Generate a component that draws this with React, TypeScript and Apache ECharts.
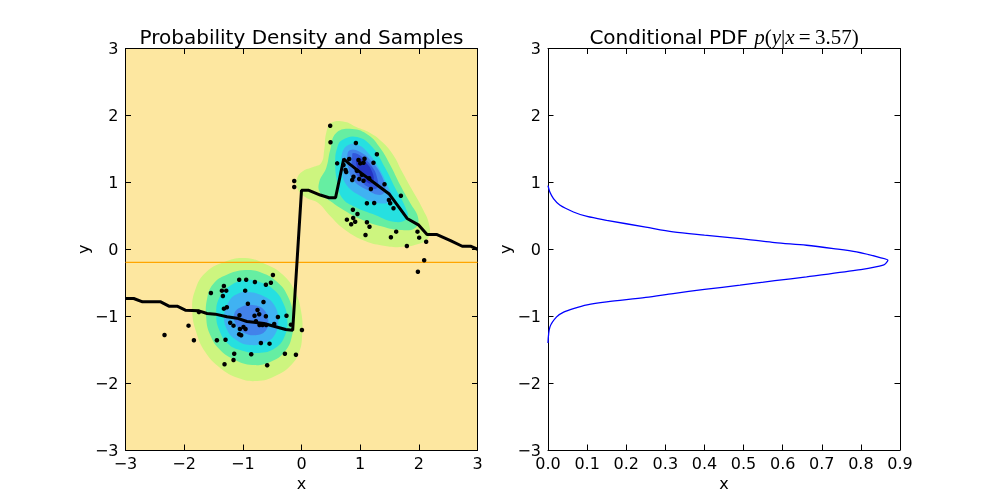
import { useEffect, useRef } from "react";
import * as echarts from "echarts";

// contour outlines, [x, y] in data units, outer level first
const leftLevel1 = [
  [-0.96, -0.131], [-0.619, -0.22], [-0.312, -0.385], [-0.107, -0.639], [-0.005, -0.938],
  [0.012, -1.252], [-0.039, -1.536], [-0.193, -1.745], [-0.448, -1.894], [-0.755, -1.969],
  [-1.079, -1.924], [-1.386, -1.774], [-1.641, -1.536], [-1.795, -1.237], [-1.863, -0.908],
  [-1.812, -0.609], [-1.641, -0.355], [-1.318, -0.191],
];
const leftLevel2 = [
  [-0.96, -0.31], [-0.67, -0.355], [-0.414, -0.49], [-0.244, -0.684], [-0.141, -0.983],
  [-0.159, -1.282], [-0.278, -1.521], [-0.533, -1.685], [-0.84, -1.73], [-1.13, -1.655],
  [-1.386, -1.506], [-1.556, -1.281], [-1.624, -1.027], [-1.607, -0.729], [-1.505, -0.519],
  [-1.283, -0.385],
];
const leftLevel3 = [
  [-0.96, -0.459], [-0.67, -0.504], [-0.448, -0.624], [-0.312, -0.803], [-0.244, -1.027],
  [-0.278, -1.281], [-0.448, -1.476], [-0.738, -1.55], [-1.045, -1.506], [-1.249, -1.416],
  [-1.403, -1.207], [-1.454, -0.953], [-1.403, -0.729], [-1.249, -0.564],
];
const leftLevel4 = [
  [-0.908, -0.639], [-0.653, -0.699], [-0.465, -0.833], [-0.397, -1.057], [-0.448, -1.266],
  [-0.602, -1.386], [-0.874, -1.431], [-1.113, -1.356], [-1.267, -1.207], [-1.318, -0.983],
  [-1.232, -0.773], [-1.096, -0.669],
];
const leftLevel5 = [
  [-0.84, -0.833], [-0.653, -0.893], [-0.568, -1.057], [-0.602, -1.207], [-0.755, -1.281],
  [-0.977, -1.252], [-1.113, -1.132], [-1.147, -0.968], [-1.028, -0.863],
];

const rightLevel1 = [
  [0.506, 1.887], [0.745, 1.901], [0.932, 1.826], [1.171, 1.737], [1.376, 1.602],
  [1.563, 1.408], [1.717, 1.154], [1.887, 0.885], [2.058, 0.616], [2.177, 0.362],
  [2.16, 0.168], [1.989, 0.078], [1.682, 0.034], [1.427, 0.049], [1.086, 0.123],
  [0.745, 0.288], [0.489, 0.497], [0.285, 0.691], [0.063, 0.781], [-0.073, 0.916],
  [-0.073, 1.065], [0.029, 1.17], [0.199, 1.229], [0.336, 1.289], [0.387, 1.483],
  [0.421, 1.737],
];
const rightLevel2 = [
  [0.591, 1.737], [0.864, 1.797], [1.137, 1.707], [1.341, 1.513], [1.512, 1.259],
  [1.682, 0.96], [1.853, 0.691], [1.989, 0.467], [1.938, 0.318], [1.682, 0.288],
  [1.341, 0.347], [1.001, 0.452], [0.745, 0.572], [0.489, 0.721], [0.319, 0.841],
  [0.302, 1.005], [0.421, 1.214], [0.489, 1.483],
];
const rightLevel3 = [
  [0.694, 1.632], [0.949, 1.677], [1.205, 1.528], [1.427, 1.214], [1.597, 0.915],
  [1.768, 0.631], [1.802, 0.467], [1.597, 0.407], [1.256, 0.512], [0.915, 0.631],
  [0.694, 0.766], [0.608, 1.005], [0.575, 1.304], [0.608, 1.513],
];
const rightLevel4 = [
  [0.796, 1.558], [0.966, 1.558], [1.137, 1.438], [1.307, 1.229], [1.478, 0.93],
  [1.546, 0.781], [1.512, 0.706], [1.307, 0.691], [1.035, 0.781], [0.745, 0.99],
  [0.694, 1.259], [0.694, 1.438],
];
const rightLevel5 = [
  [0.83, 1.483], [1.001, 1.453], [1.205, 1.304], [1.375, 1.08], [1.427, 0.885],
  [1.341, 0.811], [1.12, 0.885], [0.881, 1.035], [0.796, 1.229], [0.779, 1.379],
];
const rightLevel6 = [
  [0.881, 1.438], [1.035, 1.379], [1.205, 1.229], [1.29, 1.065], [1.29, 0.915],
  [1.137, 0.93], [0.966, 1.08], [0.864, 1.259], [0.864, 1.379],
];
const rightLevel7 = [
  [0.949, 1.364], [1.086, 1.304], [1.205, 1.155], [1.222, 1.005], [1.137, 0.99],
  [1.035, 1.11], [0.949, 1.229],
];

const samples = [
  [-0.487, -0.385], [-1.062, -0.455], [-0.943, -0.455], [-0.794, -0.489], [-0.607, -0.53],
  [-0.522, -0.5], [-1.323, -0.549], [-1.357, -0.619], [-1.283, -0.619], [-1.544, -0.654],
  [-0.96, -0.619], [-1.34, -0.699], [-0.648, -0.788], [-0.914, -0.814], [-1.272, -0.867],
  [-1.323, -0.888], [-0.75, -0.908], [-1.057, -0.987], [-0.801, -0.993], [-0.721, -0.972],
  [-0.607, -1.002], [-0.402, -1.012], [-0.256, -0.993], [-1.749, -0.938], [-1.215, -1.098],
  [-1.159, -1.142], [-1.05, -1.192], [-0.989, -1.162], [-0.954, -1.192], [-0.777, -1.077],
  [-0.716, -1.132], [-0.665, -1.132], [-0.602, -1.132], [-0.465, -1.117], [-0.181, -1.127],
  [0.007, -1.207], [-1.062, -1.271], [-1.028, -1.286], [-1.926, -1.142], [-2.335, -1.281],
  [-1.834, -1.361], [-1.442, -1.361], [-1.295, -1.352], [-0.692, -1.401], [-0.545, -1.411],
  [-1.147, -1.561], [-0.857, -1.57], [-1.159, -1.655], [-1.312, -1.719], [-0.585, -1.734],
  [-0.283, -1.561], [-0.095, -1.576],
  [0.489, 1.846], [0.494, 1.598], [0.927, 1.588], [1.285, 1.419], [0.608, 1.284],
  [0.716, 1.259], [0.813, 1.349], [0.972, 1.334], [1.001, 1.284], [1.057, 1.293],
  [1.074, 1.353], [1.227, 1.293], [0.75, 1.184], [0.762, 1.154], [0.944, 1.174],
  [0.886, 1.084], [0.864, 1.035], [0.983, 1.05], [1.057, 1.024], [1.154, 1.06],
  [1.029, 1.111], [1.415, 0.971], [1.183, 0.9], [1.115, 0.687], [1.239, 0.691],
  [1.49, 0.736], [1.512, 0.687], [1.568, 0.613], [1.694, 0.8], [0.876, 0.591],
  [0.954, 0.527], [0.774, 0.442], [0.881, 0.467], [0.915, 0.412], [0.847, 0.373],
  [1.115, 0.403], [1.159, 0.337], [1.091, 0.213], [1.524, 0.179], [1.614, 0.263],
  [1.796, 0.049], [1.977, 0.263], [2.006, 0.173], [2.125, 0.113], [2.091, -0.165],
  [1.984, -0.336], [-0.124, 1.02], [-0.124, 0.93],
];

const meanLine = [
  [-3, -0.736], [-2.86, -0.736], [-2.71, -0.786], [-2.4, -0.786], [-2.26, -0.85],
  [-2.12, -0.85], [-1.98, -0.91], [-1.75, -0.92], [-1.61, -0.96], [-1.47, -0.97],
  [-1.27, -1.01], [-1.1, -1.03], [-0.93, -1.08], [-0.64, -1.11], [-0.47, -1.15],
  [-0.27, -1.2], [-0.15, -1.21], [0.0, 0.88], [0.125, 0.88], [0.32, 0.81],
  [0.47, 0.77], [0.58, 0.77], [0.72, 1.35], [0.81, 1.28], [1.03, 1.13],
  [1.26, 0.98], [1.49, 0.83], [1.66, 0.63], [1.8, 0.46], [2.0, 0.36],
  [2.14, 0.22], [2.31, 0.22], [2.54, 0.13], [2.74, 0.045], [2.88, 0.045], [3.0, 0.0],
];

const sliceY = -0.195;

// conditional pdf, [density, y]
const condPdf = [
  [0.0, 0.95], [0.005, 0.85], [0.014, 0.757], [0.03, 0.66], [0.065, 0.557],
  [0.1, 0.49], [0.15, 0.433], [0.25, 0.33], [0.32, 0.259], [0.4, 0.21],
  [0.491, 0.159], [0.58, 0.1], [0.661, 0.06], [0.73, 0.01], [0.789, -0.04],
  [0.849, -0.124], [0.869, -0.164], [0.857, -0.239], [0.789, -0.313],
  [0.661, -0.413], [0.58, -0.47], [0.491, -0.537], [0.4, -0.6], [0.32, -0.662],
  [0.25, -0.72], [0.15, -0.786], [0.1, -0.83], [0.065, -0.886], [0.04, -0.94],
  [0.022, -1.01], [0.005, -1.16], [0.0, -1.4],
];

const levelColors = ["#cdf57f", "#66eea2", "#26e0e0", "#40b2f2", "#4282ea", "#3258dc", "#2434c4"];
const bgColor = "#fde7a0";

const rings = [
  { pts: leftLevel1, level: 0 },
  { pts: leftLevel2, level: 1 },
  { pts: leftLevel3, level: 2 },
  { pts: leftLevel4, level: 3 },
  { pts: leftLevel5, level: 4 },
  { pts: rightLevel1, level: 0 },
  { pts: rightLevel2, level: 1 },
  { pts: rightLevel3, level: 2 },
  { pts: rightLevel4, level: 3 },
  { pts: rightLevel5, level: 4 },
  { pts: rightLevel6, level: 5 },
  { pts: rightLevel7, level: 6 },
];

const FONT = "DejaVu Sans";
const minus = (v: number) => (v < 0 ? "\u2212" + Math.abs(v) : String(v));

function frameAxes(gridIndex: number, min: number, max: number, interval: number, isX: boolean, fmt: (v: number) => string, name: string) {
  const common = {
    type: "value",
    gridIndex,
    min,
    max,
    interval,
    axisLine: { show: true, onZero: false, lineStyle: { color: "#000", width: 1 } },
    axisTick: { show: true, inside: true, length: 5.5, lineStyle: { color: "#000", width: 1 } },
    splitLine: { show: false },
  };
  const main = {
    ...common,
    position: isX ? "bottom" : "left",
    name,
    nameLocation: "middle",
    nameGap: isX ? 25 : 30,
    nameTextStyle: { fontFamily: FONT, fontSize: 16, color: "#000", lineHeight: 16 },
    axisLabel: { show: true, margin: isX ? 5 : 7, fontFamily: FONT, fontSize: 16, color: "#000", lineHeight: 16, formatter: fmt },
  };
  const opp = { ...common, position: isX ? "top" : "right", axisLabel: { show: false } };
  return [main, opp];
}

export default function App() {
  const ref = useRef<HTMLDivElement>(null);

  useEffect(() => {
    if (!ref.current) return;
    const chart = echarts.init(ref.current, null, { renderer: "svg" });

    const option: any = {
      animation: false,
      title: [
        {
          text: "Probability Density and Samples",
          left: 301.5,
          top: 26.5,
          textAlign: "center",
          padding: 0,
          textStyle: { fontFamily: FONT, fontSize: 20, fontWeight: "normal", color: "#000", lineHeight: 20 },
        },
        {
          text: "{a|Conditional PDF }{m|p}{n|(}{m|y}{n||}{m|x}{n|\u2009=\u20093.57)}",
          left: 724,
          top: 26.5,
          textAlign: "center",
          padding: 0,
          textStyle: {
            fontWeight: "normal",
            rich: {
              a: { fontFamily: FONT, fontSize: 20, fontWeight: "normal", color: "#000", lineHeight: 20 },
              m: { fontFamily: "Liberation Serif", fontStyle: "italic", fontWeight: "normal", fontSize: 21, color: "#000", lineHeight: 20 },
              n: { fontFamily: "Liberation Serif", fontWeight: "normal", fontSize: 21, color: "#000", lineHeight: 20 },
            },
          },
        },
      ],
      grid: [
        { left: 125.5, top: 48.5, width: 352, height: 401.5, show: true, backgroundColor: bgColor, borderWidth: 0 },
        { left: 548, top: 48.5, width: 352, height: 401.5 },
      ],
      xAxis: [
        ...frameAxes(0, -3, 3, 1, true, minus, "x"),
        ...frameAxes(1, 0, 0.9, 0.1, true, (v: number) => v.toFixed(1), "x"),
      ],
      yAxis: [
        ...frameAxes(0, -3, 3, 1, false, minus, "y"),
        ...frameAxes(1, -3, 3, 1, false, minus, "y"),
      ],
      series: [
        {
          type: "custom",
          xAxisIndex: 0,
          yAxisIndex: 0,
          clip: true,
          z: 1,
          data: rings.map((r) => r.pts[0]),
          renderItem: (params: any, api: any) => {
            const ring = rings[params.dataIndex];
            return {
              type: "polygon",
              shape: { points: ring.pts.map((p) => api.coord(p)), smooth: 0.45 },
              style: { fill: levelColors[ring.level], stroke: "none" },
            };
          },
        },
        {
          type: "line",
          xAxisIndex: 0,
          yAxisIndex: 0,
          z: 2,
          symbol: "none",
          lineStyle: { color: "#ffa500", width: 1.2 },
          data: [[-3, sliceY], [3, sliceY]],
        },
        {
          type: "line",
          xAxisIndex: 0,
          yAxisIndex: 0,
          z: 3,
          symbol: "none",
          lineStyle: { color: "#000", width: 3 },
          data: meanLine,
        },
        {
          type: "scatter",
          xAxisIndex: 0,
          yAxisIndex: 0,
          z: 4,
          symbolSize: 4.5,
          itemStyle: { color: "#000", opacity: 1 },
          data: samples,
        },
        {
          type: "line",
          xAxisIndex: 2,
          yAxisIndex: 2,
          symbol: "none",
          smooth: 0.3,
          lineStyle: { color: "#0000ff", width: 1.3 },
          data: condPdf,
        },
      ],
    };

    chart.setOption(option);
    return () => chart.dispose();
  }, []);

  return <div ref={ref} style={{ position: "fixed", left: 0, top: 0, width: 1000, height: 500 }} />;
}
